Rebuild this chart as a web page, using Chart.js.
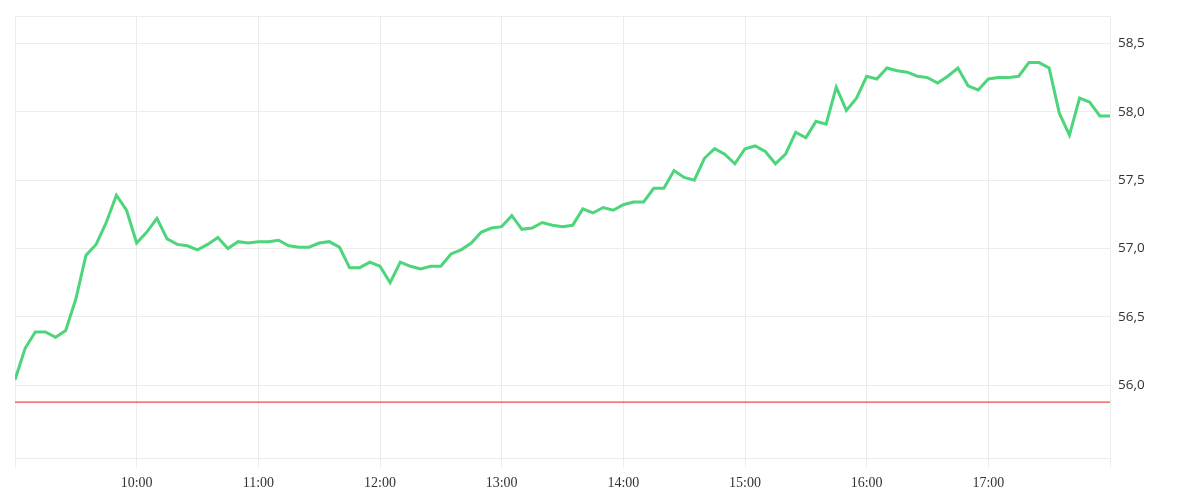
<!DOCTYPE html>
<html>
<head>
<meta charset="utf-8">
<script src="https://cdn.jsdelivr.net/npm/chart.js@4/dist/chart.umd.min.js"></script>
<style>
  html, body { margin: 0; padding: 0; background: #fff; }
  #wrap { width: 1200px; height: 500px; }
</style>
</head>
<body>
<div id="wrap"><canvas id="priceChart"></canvas></div>
<script>
// minutes since midnight, 5-minute steps from 9:00 to 18:00
const startMinute = 540;
const stepMinutes = 5;
const prices = [
  56.04, 56.27, 56.39, 56.39, 56.35, 56.40, 56.63, 56.95, 57.03, 57.19,
  57.39, 57.28, 57.04, 57.12, 57.22, 57.07, 57.03, 57.02, 56.99, 57.03,
  57.08, 57.00, 57.05, 57.04, 57.05, 57.05, 57.06, 57.02, 57.01, 57.01,
  57.04, 57.05, 57.01, 56.86, 56.86, 56.90, 56.87, 56.75, 56.90, 56.87,
  56.85, 56.87, 56.87, 56.96, 56.99, 57.04, 57.12, 57.15, 57.16, 57.24,
  57.14, 57.15, 57.19, 57.17, 57.16, 57.17, 57.29, 57.26, 57.30, 57.28,
  57.32, 57.34, 57.34, 57.44, 57.44, 57.57, 57.52, 57.50, 57.66, 57.73,
  57.69, 57.62, 57.73, 57.75, 57.71, 57.62, 57.69, 57.85, 57.81, 57.93,
  57.91, 58.18, 58.01, 58.10, 58.26, 58.24, 58.32, 58.30, 58.29, 58.26,
  58.25, 58.21, 58.26, 58.32, 58.19, 58.16, 58.24, 58.25, 58.25, 58.26,
  58.36, 58.36, 58.32, 57.99, 57.83, 58.10, 58.07, 57.97, 57.97
];
const referencePrice = 55.876;
const xRange = [540, 1080];
const yRange = [55.466, 58.70];
const hiddenYTicks = [55.5];

const pricePoints = prices.map((p, i) => ({ x: startMinute + i * stepMinutes, y: p }));

document.addEventListener('DOMContentLoaded', () => {
    const ctx = document.getElementById('priceChart');
    new Chart(ctx, {
        type: 'line',
        data: {
            datasets: [{
                data: pricePoints,
                borderColor: '#4cd57a',
                borderWidth: 3,
                pointRadius: 0,
                tension: 0,
                order: 1
            }, {
                data: [{ x: xRange[0], y: referencePrice }, { x: xRange[1], y: referencePrice }],
                borderColor: '#f04848',
                borderWidth: 1.2,
                pointRadius: 0,
                order: 2
            }]
        },
        options: {
            responsive: true,
            maintainAspectRatio: false,
            animation: false,
            layout: { padding: { left: 15, top: 12, right: 0, bottom: 0 } },
            plugins: { legend: { display: false }, tooltip: { enabled: false } },
            scales: {
                x: {
                    type: 'linear',
                    min: xRange[0],
                    max: xRange[1],
                    grid: { color: '#ececec', tickLength: 9 },
                    border: { color: '#ececec' },
                    ticks: {
                        stepSize: 60,
                        maxRotation: 0,
                        padding: 8,
                        color: '#333',
                        font: { family: 'Liberation Serif', size: 14 },
                        callback: v => (v === xRange[0] || v === xRange[1]) ? '' : (v / 60) + ':00'
                    }
                },
                y: {
                    position: 'right',
                    min: yRange[0],
                    max: yRange[1],
                    afterFit: scale => { scale.width = 90; },
                    grid: { color: '#ececec', drawTicks: false },
                    border: { color: '#ececec' },
                    ticks: {
                        stepSize: 0.5,
                        padding: 8,
                        color: '#333',
                        font: { family: 'Open Sans', size: 13.5 },
                        callback: v => hiddenYTicks.includes(v) || Math.abs(v * 2 - Math.round(v * 2)) > 1e-6
                            ? '' : v.toFixed(1).replace('.', ',')
                    }
                }
            }
        }
    });
});
</script>
</body>
</html>
